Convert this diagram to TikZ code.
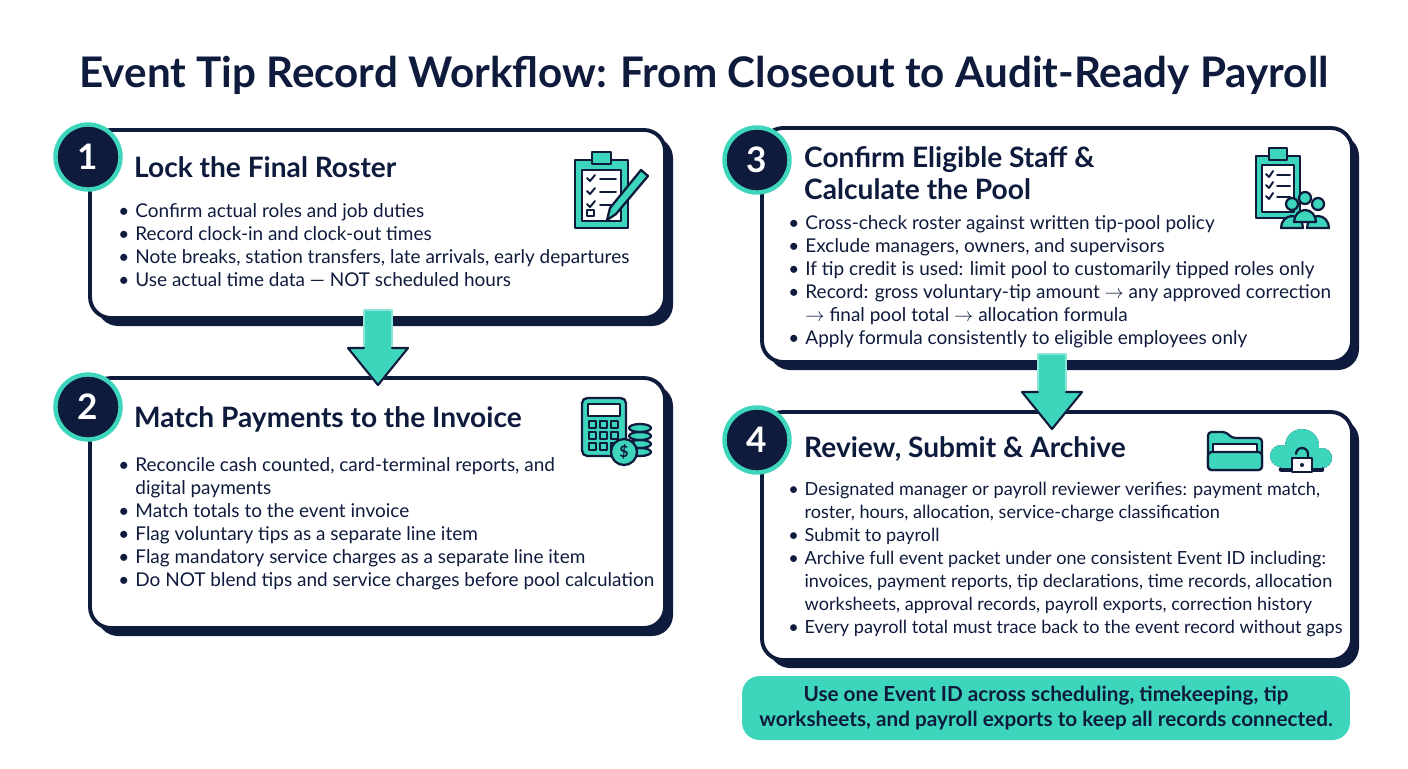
\documentclass[tikz,border=0pt]{standalone}
\usepackage{fontspec}
\setmainfont{Lato}
\usetikzlibrary{positioning,calc}
\definecolor{navy}{HTML}{0F1B3D}
\definecolor{teal}{HTML}{3DD6BD}
\tikzset{
  card/.style={draw=navy,line width=2.2pt,fill=white,rounded corners=12pt},
  shade/.style={fill=navy,rounded corners=12pt},
  num/.style={circle,fill=navy,draw=teal,line width=2.5pt,minimum size=1.3cm,text=white,font=\bfseries\fontsize{20}{20}\selectfont},
  head/.style={anchor=north west,text=navy,font=\bfseries\fontsize{16}{18.5}\selectfont,align=left},
  items/.style={anchor=north west,text=navy,font=\fontsize{10.8}{13.1}\selectfont,align=left,inner sep=0pt},
  icon/.style={draw=navy,line width=1.3pt,fill=teal},
}
\newcommand{\bul}{\makebox[0.9em][l]{\textbullet}}
\begin{document}
\begin{tikzpicture}[x=0.02cm,y=-0.02cm,line cap=round,line join=round]
\useasboundingbox (0,0) rectangle (1408,768);
% title
\node[text=navy,font=\bfseries\fontsize{24}{26}\selectfont] (title) at (704,75) {Event Tip Record Workflow: From Closeout to Audit-Ready Payroll};
% cards
\fill[shade] (97,137) rectangle (673,326);
\draw[card] (90,130) rectangle (665,318);
\fill[shade] (97,385) rectangle (673,636);
\draw[card] (90,378) rectangle (665,628);
\fill[shade] (769,135) rectangle (1359,370);
\draw[card] (762,128) rectangle (1352,362);
\fill[shade] (769,419) rectangle (1359,668);
\draw[card] (762,412) rectangle (1352,660);
% arrows
\foreach \ax/\ay in {378/310,1052/354}{
  \fill[teal,draw=teal!60!white,line width=1pt] (\ax-14,\ay) -- (\ax+14,\ay) -- (\ax+14,\ay+38) -- (\ax+30,\ay+38) -- (\ax,\ay+75) -- (\ax-30,\ay+38) -- (\ax-14,\ay+38) -- cycle;
  \draw[navy,line width=1.2pt] (\ax+14,\ay+38) -- (\ax+30,\ay+38) -- (\ax,\ay+75) -- (\ax-30,\ay+38) -- (\ax-14,\ay+38);
}
% numbers
\node[num] (n1) at (88,157) {1};
\node[num] (n2) at (88,407) {2};
\node[num] (n3) at (757,160) {3};
\node[num] (n4) at (757,440) {4};
% headings
\node[head] (h1) at (128,150) {Lock the Final Roster};
\node[head] (h2) at (128,400) {Match Payments to the Invoice};
\node[head] (h3) at (798,140) {Confirm Eligible Staff \&\\Calculate the Pool};
\node[head] (h4) at (798,430) {Review, Submit \& Archive};
% bullets
\node[items] (b1) at (118,203) {\bul Confirm actual roles and job duties\\
\bul Record clock-in and clock-out times\\
\bul Note breaks, station transfers, late arrivals, early departures\\
\bul Use actual time data --- NOT scheduled hours};
\node[items] (b2) at (118,457) {\bul Reconcile cash counted, card-terminal reports, and\\
\hphantom{\bul}digital payments\\
\bul Match totals to the event invoice\\
\bul Flag voluntary tips as a separate line item\\
\bul Flag mandatory service charges as a separate line item\\
\bul Do NOT blend tips and service charges before pool calculation};
\node[items] (b3) at (788,215) {\bul Cross-check roster against written tip-pool policy\\
\bul Exclude managers, owners, and supervisors\\
\bul If tip credit is used: limit pool to customarily tipped roles only\\
\bul Record: gross voluntary-tip amount $\rightarrow$ any approved correction\\
\hphantom{\bul}$\rightarrow$ final pool total $\rightarrow$ allocation formula\\
\bul Apply formula consistently to eligible employees only};
\node[items,font=\fontsize{10.3}{13.1}\selectfont] (b4) at (788,482) {\bul Designated manager or payroll reviewer verifies: payment match,\\
\hphantom{\bul}roster, hours, allocation, service-charge classification\\
\bul Submit to payroll\\
\bul Archive full event packet under one consistent Event ID including:\\
\hphantom{\bul}invoices, payment reports, tip declarations, time records, allocation\\
\hphantom{\bul}worksheets, approval records, payroll exports, correction history\\
\bul Every payroll total must trace back to the event record without gaps};
% note
\node[fill=teal,rounded corners=10pt,minimum width=12.16cm,minimum height=1.28cm,text=navy,align=center,font=\bfseries\fontsize{11.8}{14}\selectfont] (note) at (1046,708) {Use one Event ID across scheduling, timekeeping, tip\\worksheets, and payroll exports to keep all records connected.};
% icon: clipboard with pen
\draw[icon] (575,160) rectangle (628,228);
\fill[white,draw=navy,line width=1.1pt] (582,170) rectangle (621,221);
\draw[icon] (592,152) rectangle (611,164);
\foreach \i in {0,1,2}{
  \draw[navy,line width=1.1pt] (587,178+\i*13) -- (590,181+\i*13) -- (595,175+\i*13);
  \draw[navy,line width=1.1pt] (600,179+\i*13) -- (616,179+\i*13);}
\draw[navy,line width=1.1pt] (587,210) rectangle (594,216);
\draw[icon] (641,170) -- (648,176) -- (616,214) -- (607,220) -- (610,208) -- cycle;
% icon: calculator and coins
\draw[icon,rounded corners=3pt] (582,398) rectangle (626,456);
\draw[navy,fill=white,line width=1.1pt] (588,404) rectangle (620,416);
\foreach \r in {0,1,2}\foreach \c in {0,1,2}
  \draw[navy,line width=1pt] (589+\c*11,421+\r*11) rectangle (596+\c*11,428+\r*11);
\foreach \k in {0,1,2,3}
  \draw[icon] (640,452-\k*8) ellipse (11 and 4);
\draw[icon] (624,452) circle (13);
\node[text=navy,font=\bfseries\small] (dol) at (624,452) {\$};
% icon: clipboard with people
\draw[icon] (1256,156) rectangle (1300,218);
\fill[white,draw=navy,line width=1.1pt] (1262,165) rectangle (1294,212);
\draw[icon] (1269,148) rectangle (1287,160);
\foreach \i in {0,1,2}{
  \draw[navy,line width=1.1pt] (1266,174+\i*11) -- (1269,177+\i*11) -- (1273,171+\i*11);
  \draw[navy,line width=1.1pt] (1277,175+\i*11) -- (1290,175+\i*11);}
\foreach \px/\py in {1292/204,1318/204,1305/198}{
  \draw[icon] (\px-11,\py+24) arc (180:360:11 and 12) -- cycle;
  \draw[icon] (\px,\py) circle (6);}
% icon: folder
\draw[icon,rounded corners=2pt] (1208,432) -- (1226,432) -- (1232,438) -- (1262,438) -- (1262,470) -- (1208,470) -- cycle;
\draw[navy,fill=white,line width=1.1pt] (1213,444) rectangle (1257,452);
\draw[icon,rounded corners=2pt] (1208,452) -- (1262,452) -- (1262,470) -- (1208,470) -- cycle;
% icon: cloud with lock
\foreach \lw/\st in {2.6pt/navy,0pt/teal}{
  \fill[\st] (1281,456) circle (11);
  \fill[\st] (1302,446) circle (17);
  \fill[\st] (1322,458) circle (10);
  \fill[\st] (1281,455) rectangle (1322,468);
}
\draw[navy,line width=2.6pt] (1281,469.5) -- (1322,469.5);
\fill[teal] (1281,456) circle (9.7); \fill[teal] (1302,446) circle (15.7); \fill[teal] (1322,458) circle (8.7);
\fill[teal] (1281,455) rectangle (1322,467.5);
\draw[navy,line width=1.3pt] (1296,454) arc (180:360:6) -- (1308,458);
\draw[navy,fill=white,line width=1.3pt] (1292,458) rectangle (1312,472);
\fill[navy] (1302,465) circle (2);
\end{tikzpicture}
\end{document}
